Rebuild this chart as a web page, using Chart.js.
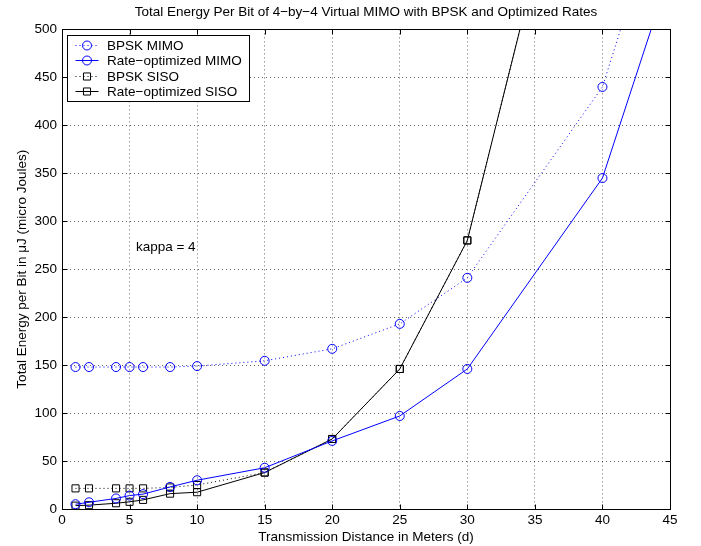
<!DOCTYPE html>
<html>
<head>
<meta charset="utf-8">
<script src="https://cdn.jsdelivr.net/npm/chart.js@4/dist/chart.umd.min.js"></script>
<style>
  html, body { margin: 0; padding: 0; background: #fff; }
  #wrap { width: 701px; height: 546px; }
</style>
</head>
<body>
<div id="wrap"><canvas id="chart"></canvas></div>
<script>
// Distances (m) where each curve was evaluated.
const mimoDistances = [1, 2, 4, 5, 6, 8, 10, 15, 20, 25, 30, 40, 45];
const sisoDistances = [1, 2, 4, 5, 6, 8, 10, 15, 20, 25, 30, 40];

// Total energy per bit (uJ).
const bpskMimo = [148, 148, 148, 148, 148, 148, 149, 154.5, 167, 193, 241, 440, 663];
const rateMimo = [5, 7, 11, 14, 15.5, 23, 30, 43, 71, 97, 146, 345, 560];
const bpskSiso = [21.5, 21.5, 21.5, 21.5, 21.5, 22.5, 25, 38, 73, 146, 280, 845];
const rateSiso = [3.5, 4, 6, 7.5, 9.5, 16, 17.5, 38, 73, 146, 280, 845];

// Axis ticks.
const xTickValues = [0, 5, 10, 15, 20, 25, 30, 35, 40, 45];
const yTickValues = [0, 50, 100, 150, 200, 250, 300, 350, 400, 450, 500];

// Text note inside the plot (data coordinates).
const note = { x: 5.47, y: 273, text: 'kappa = 4' };

const FONT = '"Liberation Sans", Arial, Helvetica, sans-serif';
const FONT_SIZE = 13.5;
const BLUE = '#0000ff';
const BLACK = '#000000';

function toPoints(xs, ys) {
  return xs.map((x, i) => ({ x: x, y: ys[i] }));
}

// Draws the box, inward ticks, the note and the legend, Matlab style.
const matlabFrame = {
  id: 'matlabFrame',
  afterDatasetsDraw(chart) {
    const { ctx, chartArea: a, scales } = chart;
    const l = Math.round(a.left) + 0.5;
    const r = Math.round(a.right) + 0.5;
    const t = Math.round(a.top) + 0.5;
    const b = Math.round(a.bottom) + 0.5;

    ctx.save();
    ctx.setLineDash([]);
    ctx.strokeStyle = BLACK;
    ctx.lineWidth = 1;
    ctx.strokeRect(l, t, r - l, b - t);

    // Ticks point inward on all four sides.
    ctx.beginPath();
    xTickValues.forEach(v => {
      const px = Math.round(scales.x.getPixelForValue(v)) + 0.5;
      ctx.moveTo(px, b); ctx.lineTo(px, b - 5);
      ctx.moveTo(px, t); ctx.lineTo(px, t + 5);
    });
    yTickValues.forEach(v => {
      const py = Math.round(scales.y.getPixelForValue(v)) + 0.5;
      ctx.moveTo(l, py); ctx.lineTo(l + 5, py);
      ctx.moveTo(r, py); ctx.lineTo(r - 5, py);
    });
    ctx.stroke();

    // Note.
    ctx.fillStyle = BLACK;
    ctx.font = FONT_SIZE + 'px ' + FONT;
    ctx.textAlign = 'left';
    ctx.textBaseline = 'middle';
    ctx.fillText(note.text, scales.x.getPixelForValue(note.x), scales.y.getPixelForValue(note.y));

    // Legend box in the top left corner.
    const bx = l + 5, by = t + 6, bw = 182, bh = 66;
    ctx.fillStyle = '#fff';
    ctx.fillRect(bx, by, bw, bh);
    ctx.strokeRect(bx, by, bw, bh);

    chart.data.datasets.forEach((ds, i) => {
      const cy = Math.round(by + 9.5 + i * 15.4) + 0.5;
      ctx.strokeStyle = ds.borderColor;
      ctx.lineWidth = 1;
      ctx.setLineDash(ds.borderDash || []);
      ctx.beginPath();
      ctx.moveTo(bx + 8, cy);
      ctx.lineTo(bx + 31, cy);
      ctx.stroke();
      ctx.setLineDash([]);
      ctx.beginPath();
      const mx = bx + 19.5;
      if (ds.pointStyle === 'rect') {
        const s = ds.pointRadius * Math.SQRT1_2;
        ctx.rect(mx - s, cy - s, 2 * s, 2 * s);
      } else {
        ctx.arc(mx, cy, ds.pointRadius, 0, Math.PI * 2);
      }
      ctx.stroke();
      ctx.fillStyle = BLACK;
      ctx.fillText(ds.label, bx + 39.5, cy + 0.5);
    });
    ctx.restore();
  }
};

const chart = new Chart(document.getElementById('chart'), {
  type: 'line',
  data: {
    datasets: [
      {
        label: 'BPSK MIMO',
        data: toPoints(mimoDistances, bpskMimo),
        borderColor: BLUE,
        borderDash: [1, 3],
        pointStyle: 'circle',
        pointRadius: 4.5
      },
      {
        label: 'Rate\u2212optimized MIMO',
        data: toPoints(mimoDistances, rateMimo),
        borderColor: BLUE,
        pointStyle: 'circle',
        pointRadius: 4.5
      },
      {
        label: 'BPSK SISO',
        data: toPoints(sisoDistances, bpskSiso),
        borderColor: BLACK,
        borderDash: [1, 3],
        pointStyle: 'rect',
        pointRadius: 5
      },
      {
        label: 'Rate\u2212optimized SISO',
        data: toPoints(sisoDistances, rateSiso),
        borderColor: BLACK,
        pointStyle: 'rect',
        pointRadius: 5
      }
    ].map(ds => Object.assign({
      borderWidth: 1,
      backgroundColor: 'rgba(0,0,0,0)',
      pointBackgroundColor: 'rgba(0,0,0,0)',
      pointBorderColor: ds.borderColor,
      pointBorderWidth: 1,
      tension: 0,
      fill: false
    }, ds))
  },
  options: {
    responsive: true,
    maintainAspectRatio: false,
    animation: false,
    events: [],
    layout: { padding: { top: 0, right: 31, bottom: 0, left: 0 } },
    plugins: {
      legend: { display: false },
      tooltip: { enabled: false },
      title: {
        display: true,
        fullSize: false,
        text: 'Total Energy Per Bit of 4\u2212by\u22124 Virtual MIMO with BPSK and Optimized Rates',
        color: BLACK,
        font: { family: FONT, size: FONT_SIZE, weight: 'normal', lineHeight: 1.2 },
        padding: { top: 4, bottom: 9.2 }
      }
    },
    scales: {
      x: {
        type: 'linear',
        min: 0,
        max: 45,
        afterBuildTicks: s => { s.ticks = xTickValues.map(v => ({ value: v })); },
        afterFit: s => { s.height = 37; },
        grid: { color: 'rgba(0,0,0,0.6)', lineWidth: 1, drawTicks: false },
        border: { display: false, dash: [1, 3] },
        ticks: { color: BLACK, padding: 3, font: { family: FONT, size: FONT_SIZE }, maxRotation: 0 },
        title: {
          display: true,
          text: 'Transmission Distance in Meters (d)',
          color: BLACK,
          font: { family: FONT, size: FONT_SIZE },
          padding: { top: 0, bottom: 1 }
        }
      },
      y: {
        type: 'linear',
        min: 0,
        max: 500,
        afterBuildTicks: s => { s.ticks = yTickValues.map(v => ({ value: v })); },
        afterFit: s => { s.width = 62; },
        grid: { color: 'rgba(0,0,0,0.6)', lineWidth: 1, drawTicks: false },
        border: { display: false, dash: [1, 3] },
        ticks: { color: BLACK, padding: 5, font: { family: FONT, size: FONT_SIZE } },
        title: {
          display: true,
          text: 'Total Energy per Bit in \u03bcJ (micro Joules)',
          color: BLACK,
          font: { family: FONT, size: FONT_SIZE },
          padding: { top: 14, bottom: 0 }
        }
      }
    }
  },
  plugins: [matlabFrame]
});
</script>
</body>
</html>
